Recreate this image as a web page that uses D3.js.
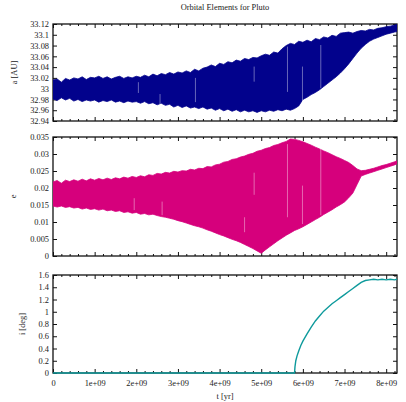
<!DOCTYPE html>
<html><head><meta charset="utf-8">
<script src="https://cdn.jsdelivr.net/npm/d3@7"></script>
<style>
body{margin:0;background:#fff}
svg{display:block}
</style>
</head><body><svg id="c" width="406" height="402"></svg>
<script>
const titleText = "Orbital Elements for Pluto";
const xLabel = "t [yr]";
// time samples in units of 1e9 yr
const tGyr = [0,0.1,0.2,0.3,0.4,0.5,0.6,0.7,0.8,0.9,
  1.0,1.1,1.2,1.3,1.4,1.5,1.6,1.7,1.8,1.9,
  2.0,2.1,2.2,2.3,2.4,2.5,2.6,2.7,2.8,2.9,
  3.0,3.1,3.2,3.3,3.4,3.5,3.6,3.7,3.8,3.9,
  4.0,4.1,4.2,4.3,4.4,4.5,4.6,4.7,4.8,4.9,
  5.0,5.1,5.2,5.3,5.4,5.5,5.6,5.7,5.8,5.9,
  6.0,6.1,6.2,6.3,6.4,6.5,6.6,6.7,6.8,6.9,
  7.0,7.1,7.2,7.3,7.4,7.5,7.6,7.7,7.8,7.9,
  8.0,8.1,8.2,8.26];
// semi-major axis envelope [AU]
const aHigh = [33.016,33.018,33.012,33.019,33.016,33.020,33.018,33.022,33.017,33.021,
  33.020,33.023,33.019,33.022,33.018,33.021,33.023,33.019,33.022,33.020,
  33.023,33.021,33.025,33.022,33.027,33.024,33.028,33.026,33.030,33.027,
  33.031,33.029,33.033,33.030,33.036,33.033,33.038,33.040,33.044,33.041,
  33.047,33.045,33.050,33.048,33.053,33.051,33.056,33.054,33.058,33.057,
  33.061,33.064,33.062,33.068,33.066,33.074,33.080,33.084,33.082,33.088,
  33.086,33.090,33.087,33.093,33.091,33.096,33.094,33.099,33.097,33.103,
  33.104,33.105,33.103,33.106,33.108,33.107,33.110,33.109,33.112,33.113,
  33.115,33.116,33.118,33.119];
const aLow = [32.981,32.978,32.983,32.979,32.982,32.977,32.980,32.976,32.979,32.977,
  32.979,32.975,32.978,32.976,32.979,32.975,32.977,32.974,32.977,32.975,
  32.976,32.973,32.976,32.972,32.974,32.970,32.973,32.969,32.971,32.966,
  32.969,32.965,32.968,32.964,32.966,32.963,32.966,32.962,32.964,32.960,
  32.963,32.959,32.962,32.958,32.961,32.957,32.960,32.957,32.959,32.956,
  32.959,32.957,32.960,32.958,32.961,32.959,32.962,32.960,32.963,32.968,
  32.980,32.984,32.989,32.993,32.998,33.004,33.010,33.016,33.022,33.029,
  33.037,33.046,33.056,33.066,33.075,33.082,33.088,33.092,33.095,33.098,
  33.101,33.103,33.105,33.106];
// eccentricity envelope
const eHigh = [0.0218,0.0222,0.0214,0.0223,0.0219,0.0224,0.0220,0.0226,0.0221,0.0227,
  0.0223,0.0228,0.0224,0.0229,0.0225,0.0230,0.0227,0.0232,0.0229,0.0234,
  0.0231,0.0236,0.0233,0.0239,0.0237,0.0243,0.0241,0.0246,0.0244,0.0249,
  0.0247,0.0251,0.0250,0.0255,0.0253,0.0258,0.0257,0.0263,0.0262,0.0268,
  0.0270,0.0276,0.0278,0.0284,0.0286,0.0291,0.0294,0.0299,0.0302,0.0308,
  0.0311,0.0316,0.0319,0.0325,0.0328,0.0333,0.0337,0.0344,0.0343,0.0340,
  0.0336,0.0331,0.0326,0.0320,0.0315,0.0309,0.0304,0.0298,0.0292,0.0287,
  0.0281,0.0275,0.0266,0.0256,0.0251,0.0252,0.0255,0.0258,0.0262,0.0266,
  0.0269,0.0273,0.0277,0.0280];
const eLow = [0.0147,0.0144,0.0147,0.0143,0.0145,0.0141,0.0143,0.0138,0.0141,0.0137,
  0.0139,0.0135,0.0138,0.0133,0.0135,0.0131,0.0133,0.0128,0.0130,0.0126,
  0.0128,0.0123,0.0125,0.0121,0.0123,0.0119,0.0116,0.0114,0.0111,0.0108,
  0.0104,0.0101,0.0097,0.0093,0.0089,0.0086,0.0082,0.0077,0.0073,0.0068,
  0.0063,0.0059,0.0054,0.0049,0.0045,0.0040,0.0034,0.0028,0.0022,0.0015,
  0.0008,0.0018,0.0027,0.0036,0.0045,0.0053,0.0061,0.0068,0.0075,0.0080,
  0.0086,0.0093,0.0100,0.0107,0.0114,0.0122,0.0129,0.0136,0.0144,0.0151,
  0.0159,0.0171,0.0185,0.0210,0.0235,0.0240,0.0244,0.0248,0.0252,0.0256,
  0.0260,0.0264,0.0268,0.0271];
// light streaks inside the bands: [t, from, to]
const aGaps = [[2.05,32.992,33.012],[2.57,32.970,32.990],[3.42,32.975,33.020],[4.83,33.013,33.041],
  [5.63,32.994,33.078],[5.99,32.976,33.041],[6.43,33.001,33.081]];
const eGaps = [[1.95,0.0135,0.0170],[2.62,0.0120,0.0160],[4.6,0.0070,0.0114],[4.83,0.0180,0.0245],
  [5.63,0.0114,0.0329],[5.99,0.0094,0.0207],[6.43,0.0120,0.0325]];
// inclination [deg]
const iT = [0,5.80,5.81,5.83,5.86,5.90,5.95,6.0,6.1,6.2,6.3,6.4,6.5,6.6,6.7,6.8,6.9,
  7.0,7.1,7.2,7.3,7.4,7.5,7.6,7.7,7.8,7.9,8.0,8.1,8.2,8.26];
const iVal = [0,0,0.10,0.20,0.28,0.36,0.45,0.52,0.64,0.75,0.85,0.93,1.01,1.07,1.13,1.18,1.23,
  1.28,1.33,1.38,1.43,1.48,1.51,1.52,1.53,1.52,1.53,1.52,1.53,1.52,1.53];

const xTicks = [0,1,2,3,4,5,6,7,8];
const xTickLabels = ["0","1e+09","2e+09","3e+09","4e+09","5e+09","6e+09","7e+09","8e+09"];
const xMinor = [0.2,0.4,0.6,0.8,1.2,1.4,1.6,1.8,2.2,2.4,2.6,2.8,3.2,3.4,3.6,3.8,4.2,4.4,4.6,4.8,
  5.2,5.4,5.6,5.8,6.2,6.4,6.6,6.8,7.2,7.4,7.6,7.8,8.2];
const aTicks = [32.94,32.96,32.98,33.0,33.02,33.04,33.06,33.08,33.1,33.12];
const eTicks = [0,0.005,0.01,0.015,0.02,0.025,0.03,0.035];
const iTicks = [0,0.2,0.4,0.6,0.8,1.0,1.2,1.4,1.6];

const svg = d3.select("#c");
const FONT = '"Liberation Serif","DejaVu Serif",serif';
const FS = 8.4;
const L = 53, R = 397;
const x = d3.scaleLinear().domain([0, 8.26]).range([L, R]);

svg.append("text").attr("x", 225).attr("y", 10).attr("text-anchor","middle")
  .attr("font-family", FONT).attr("font-size", FS).attr("fill","#222").text(titleText);

const panels = [
  {top:24, bottom:121, domain:[32.94,33.12], ticks:aTicks, label:"a [AU]", labelX:17, color:"#02028c",
   hi:aHigh, lo:aLow, gaps:aGaps},
  {top:137, bottom:256, domain:[0,0.035], ticks:eTicks, label:"e", labelX:16, color:"#d6007c",
   hi:eHigh, lo:eLow, gaps:eGaps},
  {top:275, bottom:373, domain:[0,1.6], ticks:iTicks, label:"i [deg]", labelX:25, color:"#0e9a9c"}
];

function fmt(v){ return String(+v.toFixed(4)); }

panels.forEach((p, k) => {
  const y = d3.scaleLinear().domain(p.domain).range([p.bottom, p.top]);
  const g = svg.append("g");
  const clipId = "clip" + k;
  svg.append("clipPath").attr("id", clipId).append("rect")
    .attr("x", L).attr("y", p.top).attr("width", R - L).attr("height", p.bottom - p.top);

  g.append("rect").attr("x", L).attr("y", p.top).attr("width", R - L).attr("height", p.bottom - p.top)
    .attr("fill","none").attr("stroke","#111").attr("stroke-width",1.3);

  const styleAxis = sel => {
    sel.select(".domain").remove();
    sel.selectAll("line").attr("stroke","#111").attr("stroke-width",1);
    sel.selectAll("text").attr("font-family", FONT).attr("font-size", FS).attr("fill","#222");
    sel.attr("font-size", null).attr("font-family", null);
  };
  g.append("g").attr("transform",`translate(${L},0)`)
    .call(d3.axisLeft(y).tickValues(p.ticks).tickFormat(fmt).tickSizeInner(-4).tickSizeOuter(0).tickPadding(4))
    .call(styleAxis);
  g.append("g").attr("transform",`translate(${R},0)`)
    .call(d3.axisRight(y).tickValues(p.ticks).tickFormat("").tickSizeInner(-4).tickSizeOuter(0))
    .call(styleAxis);
  const isLast = k === panels.length - 1;
  g.append("g").attr("transform",`translate(0,${p.bottom})`)
    .call(d3.axisBottom(x).tickValues(xTicks).tickFormat((d,i) => isLast ? xTickLabels[i] : "")
      .tickSizeInner(-4).tickSizeOuter(0).tickPadding(7))
    .call(styleAxis);
  g.append("g").attr("transform",`translate(0,${p.bottom})`)
    .call(d3.axisBottom(x).tickValues(xMinor).tickFormat("").tickSizeInner(-2).tickSizeOuter(0))
    .call(styleAxis);
  g.append("g").attr("transform",`translate(0,${p.top})`)
    .call(d3.axisTop(x).tickValues(xTicks).tickFormat("").tickSizeInner(-4).tickSizeOuter(0))
    .call(styleAxis);
  g.append("g").attr("transform",`translate(0,${p.top})`)
    .call(d3.axisTop(x).tickValues(xMinor).tickFormat("").tickSizeInner(-2).tickSizeOuter(0))
    .call(styleAxis);

  svg.append("text").attr("transform",`translate(${p.labelX},${(p.top+p.bottom)/2}) rotate(-90)`)
    .attr("text-anchor","middle").attr("font-family", FONT).attr("font-size", FS).attr("fill","#222")
    .text(p.label);

  if (p.hi) {
    const pts = tGyr.map((t, j) => ({t, hi:p.hi[j], lo:p.lo[j]}));
    const dg = svg.append("g").attr("clip-path", `url(#${clipId})`);
    dg.append("path").datum(pts)
      .attr("d", d3.area().x(d => x(d.t)).y0(d => y(d.lo)).y1(d => y(d.hi)))
      .attr("fill", p.color).attr("stroke", p.color).attr("stroke-width", 0.8);
    dg.selectAll("line.gap").data(p.gaps).join("line").attr("class","gap")
      .attr("x1", d => x(d[0])).attr("x2", d => x(d[0]))
      .attr("y1", d => y(d[1])).attr("y2", d => y(d[2]))
      .attr("stroke","#fff").attr("stroke-opacity",0.4).attr("stroke-width",1);
  } else {
    const pts = iT.map((t, j) => ({t, v:iVal[j]}));
    svg.append("path").datum(pts)
      .attr("d", d3.line().x(d => x(d.t)).y(d => y(d.v)))
      .attr("fill","none").attr("stroke", p.color).attr("stroke-width", 1.4);
  }
});

svg.append("text").attr("x", 225).attr("y", 399).attr("text-anchor","middle")
  .attr("font-family", FONT).attr("font-size", FS).attr("fill","#222").text(xLabel);
</script>
</body></html>
